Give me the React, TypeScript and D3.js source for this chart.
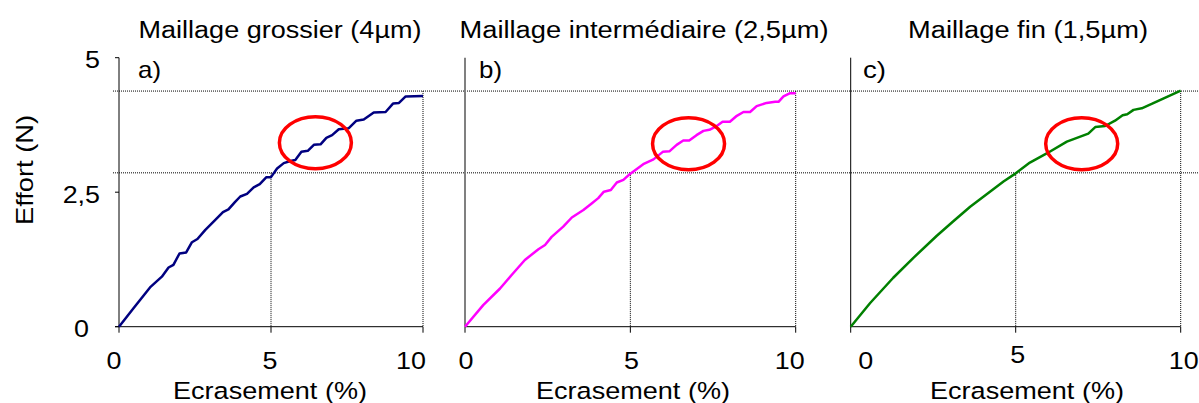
import React from "react";
import * as d3 from "d3";

// ---------- data ----------
const xTicks = [0, 5, 10];
const yTicks = [0, 2.5, 5];
const yTickLabels = ["0", "2,5", "5"];
const xTickLabels = ["0", "5", "10"];

const titles = [
  "Maillage grossier (4µm)",
  "Maillage intermédiaire (2,5µm)",
  "Maillage fin (1,5µm)",
];
const panelLetters = ["a)", "b)", "c)"];
const xAxisTitle = "Ecrasement (%)";
const yAxisTitle = "Effort (N)";

// reference levels (N) and crush levels (%)
const refLevels = [4.38, 2.86];
const refCrush = [10, 5];

// Coarse mesh (4µm)
const coarseX = [0, 0.47, 1.02, 1.41, 1.63, 1.79, 1.99, 2.21, 2.4, 2.58, 2.84, 3.16, 3.42, 3.6, 3.82, 3.99, 4.21, 4.43, 4.63, 4.85, 5.0, 5.2, 5.42, 5.64, 5.8, 6.0, 6.21, 6.41, 6.63, 6.82, 7.01, 7.23, 7.56, 7.81, 8.05, 8.38, 8.77, 9.02, 9.21, 9.43, 10.0];
const coarseY = [0, 0.34, 0.73, 0.93, 1.1, 1.15, 1.36, 1.38, 1.57, 1.63, 1.8, 1.98, 2.13, 2.18, 2.32, 2.42, 2.47, 2.59, 2.65, 2.78, 2.78, 2.94, 3.04, 3.08, 3.1, 3.25, 3.27, 3.38, 3.39, 3.51, 3.56, 3.67, 3.69, 3.83, 3.85, 3.98, 3.99, 4.15, 4.16, 4.28, 4.29];

// Intermediate mesh (2,5µm)
const interX = [0, 0.55, 1.06, 1.41, 1.81, 2.22, 2.42, 2.62, 2.97, 3.23, 3.58, 3.83, 4.03, 4.2, 4.41, 4.59, 4.79, 4.99, 5.39, 5.7, 5.98, 6.18, 6.4, 6.6, 6.78, 7.0, 7.21, 7.39, 7.61, 7.79, 8.01, 8.22, 8.42, 8.62, 8.82, 9.12, 9.38, 9.48, 9.63, 9.83, 10.0];
const interY = [0, 0.4, 0.71, 0.96, 1.24, 1.44, 1.52, 1.67, 1.86, 2.03, 2.17, 2.29, 2.39, 2.51, 2.54, 2.68, 2.73, 2.84, 3.02, 3.11, 3.25, 3.26, 3.38, 3.46, 3.46, 3.56, 3.64, 3.66, 3.73, 3.81, 3.81, 3.92, 3.99, 3.99, 4.1, 4.16, 4.18, 4.18, 4.28, 4.34, 4.34];

// Fine mesh (1,5µm)
const fineX = [0, 0.59, 1.29, 1.9, 2.61, 3.11, 3.62, 4.22, 4.63, 5.0, 5.43, 5.94, 6.55, 7.2, 7.41, 7.71, 8.01, 8.24, 8.38, 8.57, 8.82, 9.12, 9.47, 10.0];
const fineY = [0, 0.44, 0.91, 1.28, 1.69, 1.96, 2.23, 2.51, 2.7, 2.85, 3.05, 3.22, 3.44, 3.59, 3.71, 3.73, 3.83, 3.93, 3.95, 4.03, 4.06, 4.14, 4.24, 4.39];

// highlighted zone centres (data coords)
const zoneX = [6.46, 6.76, 7.0];
const zoneY = [3.42, 3.4, 3.4];

// ---------- layout / style ----------
const W = 1199;
const H = 403;
const FONT = "'Liberation Sans', Arial, Helvetica, sans-serif";
const yRange: [number, number] = [326.7, 57.7];

const panels = [
  { left: 119, right: 423, color: "#000080", axisColor: "#000", axisW: 1, yTicks: true, xs: coarseX, ys: coarseY,
    titleX: 280, titleLen: 283, letterX: 138, xTitleX: 270, xLabelNudge: [[-5, 0], [-1, 0], [-12, 0]] },
  { left: 465, right: 795.7, color: "#FF00FF", axisColor: "#808080", axisW: 2, yTicks: false, xs: interX, ys: interY,
    titleX: 644, titleLen: 369, letterX: 479, xTitleX: 633, xLabelNudge: [[1, 0], [1, 0], [-6, 0]] },
  { left: 850.7, right: 1180.7, color: "#008000", axisColor: "#000", axisW: 1, yTicks: false, xs: fineX, ys: fineY,
    titleX: 1028, titleLen: 240, letterX: 863, xTitleX: 1027, xLabelNudge: [[15, 0], [2, -6], [3, 0]] },
];
const yLabelNudge = [[-30, 2], [-19, 2], [-19, 2]];

function T({ x, y, children, size = 24, anchor = "middle", sx = 1, baseline = "auto", rotate = 0, len }: any) {
  return (
    <text
      transform={`translate(${x},${y}) rotate(${rotate}) scale(${sx},1)`}
      fontFamily={FONT}
      fontSize={size}
      textAnchor={anchor}
      dominantBaseline={baseline}
      fill="#000"
      textLength={len}
      lengthAdjust={len ? "spacingAndGlyphs" : undefined}
    >
      {children}
    </text>
  );
}

export default function App() {
  const y = d3.scaleLinear().domain([0, 5]).range(yRange);
  const dotted = { stroke: "#000", strokeWidth: 1, strokeDasharray: "1,1" };

  return (
    <svg
      width={W}
      height={H}
      style={{ position: "absolute", left: 0, top: 0, background: "#fff" }}
      viewBox={`0 0 ${W} ${H}`}
    >
      <rect x={0} y={0} width={W} height={H} fill="#fff" />

      {/* long horizontal reference lines */}
      {refLevels.map((v, i) => (
        <line key={"h" + i} x1={113} x2={W} y1={y(v)} y2={y(v)} {...dotted} />
      ))}

      {panels.map((p, pi) => {
        const x = d3.scaleLinear().domain([0, 10]).range([p.left, p.right]);
        const pts = p.xs.map((v: number, i: number) => [v, p.ys[i]] as [number, number]);
        const line = d3
          .line<[number, number]>()
          .x((d) => x(d[0]))
          .y((d) => y(d[1]));
        return (
          <g key={pi}>
            {/* vertical reference lines */}
            {refCrush.map((c, i) => (
              <line key={"v" + i} x1={x(c)} x2={x(c)} y1={y(refLevels[i])} y2={y(0)} {...dotted} />
            ))}
            {/* x axis */}
            <line x1={p.yTicks ? p.left - 4 : p.left} x2={x(10)} y1={y(0)} y2={y(0)} stroke="#000" strokeWidth={1} />
            {xTicks.map((t) => (
              <line key={"xt" + t} x1={x(t)} x2={x(t)} y1={y(0)} y2={y(0) + 6} stroke="#000" strokeWidth={1} />
            ))}
            {xTicks.map((t, i) => (
              <T key={"xl" + t} x={x(t) + p.xLabelNudge[i][0]} y={369 + p.xLabelNudge[i][1]} size={24} sx={1.12}>
                {xTickLabels[i]}
              </T>
            ))}
            {/* y axis */}
            <line x1={p.left} x2={p.left} y1={y(5)} y2={y(0)} stroke={p.axisColor} strokeWidth={p.axisW} />
            {p.yTicks &&
              yTicks.map((t, i) => (
                <g key={"yt" + t}>
                  <line x1={p.left - 4} x2={p.left} y1={y(t)} y2={y(t)} stroke="#000" strokeWidth={1} />
                  <T x={p.left + yLabelNudge[i][0]} y={y(t) + yLabelNudge[i][1]} size={24} sx={1.12} anchor="end" baseline="central">
                    {yTickLabels[i]}
                  </T>
                </g>
              ))}
            {/* curve */}
            <path d={line(pts) || ""} fill="none" stroke={p.color} strokeWidth={2.5} strokeLinejoin="round" />
            {/* highlight */}
            <ellipse cx={x(zoneX[pi])} cy={y(zoneY[pi])} rx={36} ry={26} fill="none" stroke="#FF0000" strokeWidth={3.5} />
            {/* titles */}
            <T x={p.titleX} y={38} size={23.5} len={p.titleLen}>
              {titles[pi]}
            </T>
            <T x={p.letterX} y={78} size={24} anchor="start" len={23}>
              {panelLetters[pi]}
            </T>
            <T x={p.xTitleX} y={399} size={24.5} len={194}>
              {xAxisTitle}
            </T>
          </g>
        );
      })}

      <T x={33} y={170} size={24} rotate={-90} len={110}>
        {yAxisTitle}
      </T>
    </svg>
  );
}
